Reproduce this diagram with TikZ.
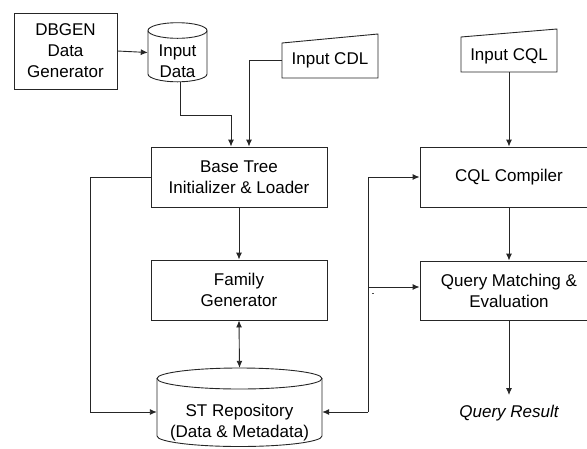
\documentclass[tikz,border=0pt]{standalone}
\usepackage{fontspec}
\setmainfont{Liberation Sans}
\usetikzlibrary{arrows.meta}
\begin{document}
\begin{tikzpicture}[x=1pt,y=-1pt,
  every node/.style={font=\fontsize{17}{21}\selectfont},
  line/.style={line width=0.9pt, draw=black!85},
  arr/.style={line, -{Latex[length=7pt,width=6pt]}},
  darr/.style={line, {Latex[length=7pt,width=6pt]}-{Latex[length=7pt,width=6pt]}},
  boxnode/.style={draw=black!85, line width=0.9pt, align=center, inner sep=0pt},
  ghost/.style={inner sep=0pt, align=center}]
\useasboundingbox (0,0) rectangle (587,448);
\clip (0,0) rectangle (587,448);

% DBGEN
\node[boxnode, minimum width=103, minimum height=76] (dbgen) at (65.5,51) {DBGEN\\Data\\Generator};

% Input Data cylinder
\node[ghost, minimum width=59, minimum height=59] (indata) at (177.5,52.5) {};
\draw[line] (177.5,30.5) ellipse [x radius=29.5pt, y radius=7.8pt];
\draw[line] (148,30.5) -- (148,74) arc[start angle=180, end angle=360, x radius=29.5pt, y radius=7.8pt] -- (207,30.5);
\node[ghost] (indatatxt) at (177.5,61) {Input\\Data};

% Input CDL
\node[ghost, minimum width=96, minimum height=36] (cdl) at (330,60) {Input CDL};
\draw[line] (282,43) -- (378,34) -- (378,78) -- (282,78) -- cycle;

% Input CQL
\node[ghost, minimum width=96, minimum height=32] (cqlin) at (509,56) {Input CQL};
\draw[line] (461,37) -- (557,29) -- (557,72) -- (461,72) -- cycle;

% Base tree, family
\node[boxnode, minimum width=176, minimum height=60] (base) at (239,177) {Base Tree\\Initializer \& Loader};
\node[boxnode, minimum width=176, minimum height=60] (family) at (239,290) {Family\\Generator};

% ST Repository cylinder
\node[ghost, minimum width=165, minimum height=88] (st) at (239.5,412) {};
\draw[line] (239.5,378.5) ellipse [x radius=82.5pt, y radius=10.5pt];
\draw[line] (157,378.5) -- (157,436) arc[start angle=180, end angle=360, x radius=82.5pt, y radius=10.5pt] -- (322,378.5);
\node[ghost] (sttxt) at (239.5,423) {ST Repository\\(Data \& Metadata)};

% CQL side
\node[boxnode, minimum width=178, minimum height=60] (cql) at (509,177) {CQL Compiler};
\node[boxnode, minimum width=178, minimum height=59] (qm) at (509,290.5) {Query Matching \&\\Evaluation};
\node[inner sep=0pt, anchor=north, font=\fontsize{17}{21}\selectfont\itshape] (qr) at (509,405) {Query Result};

% connectors
\draw[arr] (dbgen.east) -- (indata.west);
\draw[arr] ([xshift=2.5pt]indata.south) -- ++(0,33) -| ([xshift=-8pt]base.north);
\draw[arr] (cdl.west) -| ([xshift=10pt]base.north);
\draw[arr] (cqlin.south) -- (cql.north);
\draw[arr] (base.south) -- (family.north);
\draw[darr] (family.south) -- (st.north);
\draw[arr] (base.west) -- ++(-60,0) |- (st.west);
\coordinate (bus) at (368,287);
\draw[arr] (bus |- st.east) -- (st.east);
\draw[arr] (bus |- st.east) -- (bus |- cql.west) -- (cql.west);
\draw[arr] (bus) -- (bus -| qm.west);
\draw[arr] (cql.south) -- (qm.north);
\draw[arr] (qm.south) -- ([yshift=10pt]qr.north);
\fill[black!70] (371.5,292.5) rectangle (373.5,293.5);
\end{tikzpicture}
\end{document}
